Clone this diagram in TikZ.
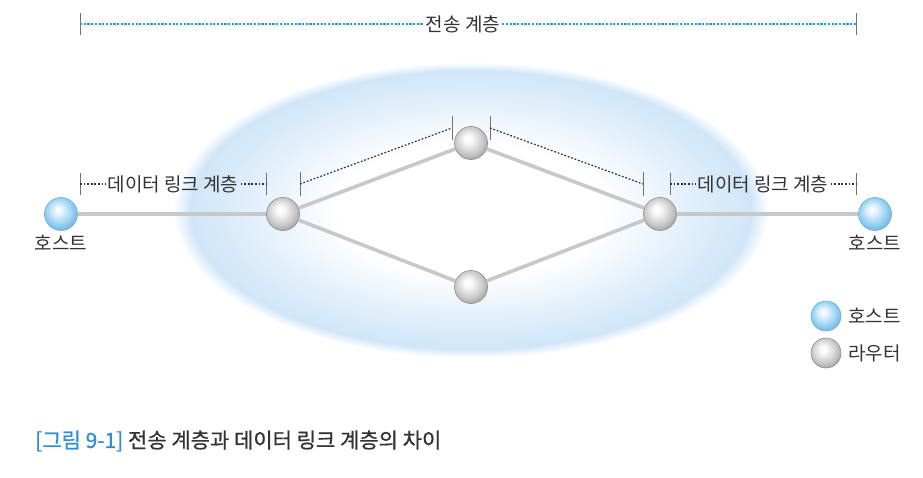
\documentclass[tikz,border=0pt]{standalone}
\usepackage{fontspec}
\setmainfont{Noto Sans CJK KR}
\newfontface\capfont{Noto Sans CJK KR}[FakeBold=0.8]
\newfontface\capbluefont{Noto Sans CJK KR}[FakeBold=0.8, Color=2F8FD0]
\usepackage{xcolor}
\usetikzlibrary{positioning, calc}

\definecolor{hostblue}{HTML}{8CCBF2}
\definecolor{hostedge}{HTML}{6AAEDC}
\definecolor{routergray}{HTML}{C4C4C4}
\definecolor{routeredge}{HTML}{8E8E8E}
\definecolor{cloudblue}{HTML}{D0E6F8}
\definecolor{linkgray}{HTML}{C8C8C8}
\definecolor{toplayer}{HTML}{1AA3E0}

\pgfdeclareradialshading{hostball}{\pgfpoint{-5bp}{7bp}}{%
  color(0bp)=(white); color(6bp)=(white!80!hostblue); color(22bp)=(hostblue); color(30bp)=(hostblue!85!black); color(50bp)=(hostblue!85!black)}
\pgfdeclareradialshading{routerball}{\pgfpoint{-5bp}{7bp}}{%
  color(0bp)=(white); color(6bp)=(white!90!routergray); color(22bp)=(routergray); color(30bp)=(routergray!80!black); color(50bp)=(routergray!80!black)}
\pgfdeclareradialshading{cloudglow}{\pgfpointorigin}{%
  color(0bp)=(white); color(11bp)=(white); color(20bp)=(cloudblue!75); color(23.5bp)=(cloudblue); color(25bp)=(white); color(50bp)=(white)}

\begin{document}
\begin{tikzpicture}[
    x=1pt, y=-1pt,
    every node/.style={font=\fontsize{19}{22}\selectfont, text=black!80},
    host/.style={circle, minimum size=33pt, inner sep=0pt, shading=hostball, draw=hostedge, line width=0.6pt},
    router/.style={circle, minimum size=33pt, inner sep=0pt, shading=routerball, draw=routeredge, line width=0.6pt},
    legendhost/.style={host, minimum size=30pt},
    legendrouter/.style={router, minimum size=30pt},
    link/.style={draw=linkgray, line width=3.6pt},
    tick/.style={draw=black!55, line width=0.8pt},
    span/.style={draw=black!80, line width=1.2pt, dash pattern=on 1.8pt off 1.8pt},
    topspan/.style={draw=toplayer, line width=1.2pt, dash pattern=on 2.2pt off 1.5pt},
    lbl/.style={inner sep=2pt},
  ]
  \useasboundingbox (0,0) rectangle (923,478);

  % glow behind the network
  \shade[shading=cloudglow] (471,210) ellipse (298 and 148);

  % transport layer span
  \coordinate (tl) at (80,24);
  \coordinate (tr) at (856,24);
  \node[lbl] (ttext) at (463,24) {전송 계층};
  \draw[tick] ($(tl)+(0,-11)$) -- ($(tl)+(0,11)$);
  \draw[tick] ($(tr)+(0,-11)$) -- ($(tr)+(0,11)$);
  \draw[topspan] (tl) -- (ttext.west);
  \draw[topspan] (ttext.east) -- (tr);

  % hosts and routers
  \node[host] (hl) at (61,214) {};
  \node[router] (rl) at (283,214) {};
  \node[router] (rt) at (471,143) {};
  \node[router] (rb) at (471,287) {};
  \node[router] (rr) at (660,214) {};
  \node[host] (hr) at (875,214) {};
  \node[below=2pt of hl, lbl] (hltext) {호스트};
  \node[below=2pt of hr, lbl] (hrtext) {호스트};

  % links
  \draw[link] (hl) -- (rl);
  \draw[link] (rl) -- (rt);
  \draw[link] (rl) -- (rb);
  \draw[link] (rt) -- (rr);
  \draw[link] (rb) -- (rr);
  \draw[link] (rr) -- (hr);

  % data link spans
  \coordinate (dl1) at (80,184);
  \coordinate (dl2) at (266,184);
  \node[lbl] (dltext) at (173,184) {데이터 링크 계층};
  \draw[tick] ($(dl1)+(0,-11)$) -- ($(dl1)+(0,11)$);
  \draw[tick] ($(dl2)+(0,-11)$) -- ($(dl2)+(0,11)$);
  \draw[span] (dl1) -- (dltext.west);
  \draw[span] (dltext.east) -- (dl2);

  \coordinate (dr1) at (670,184);
  \coordinate (dr2) at (856,184);
  \node[lbl] (drtext) at (763,184) {데이터 링크 계층};
  \draw[tick] ($(dr1)+(0,-11)$) -- ($(dr1)+(0,11)$);
  \draw[tick] ($(dr2)+(0,-11)$) -- ($(dr2)+(0,11)$);
  \draw[span] (dr1) -- (drtext.west);
  \draw[span] (drtext.east) -- (dr2);

  % hop spans
  \coordinate (a1) at (300,184);
  \coordinate (a2) at (452,128);
  \coordinate (b1) at (490,128);
  \coordinate (b2) at (643,184);
  \foreach \p in {a1,a2,b1,b2}
    \draw[tick] ($(\p)+(0,-12)$) -- ($(\p)+(0,12)$);
  \draw[span] (a1) -- (a2);
  \draw[span] (b1) -- (b2);

  % legend
  \node[legendhost] (lh) at (826,316) {};
  \node[right=5pt of lh, lbl] (lhtext) {호스트};
  \node[legendrouter] (lr) at (826,353) {};
  \node[right=5pt of lr, lbl] (lrtext) {라우터};

  % caption
  \node[anchor=west, inner sep=0pt, font=\fontsize{21}{25}\capfont] (cap) at (35,441)
    {{\capbluefont[그림 9-1]} 전송 계층과 데이터 링크 계층의 차이};
\end{tikzpicture}
\end{document}
